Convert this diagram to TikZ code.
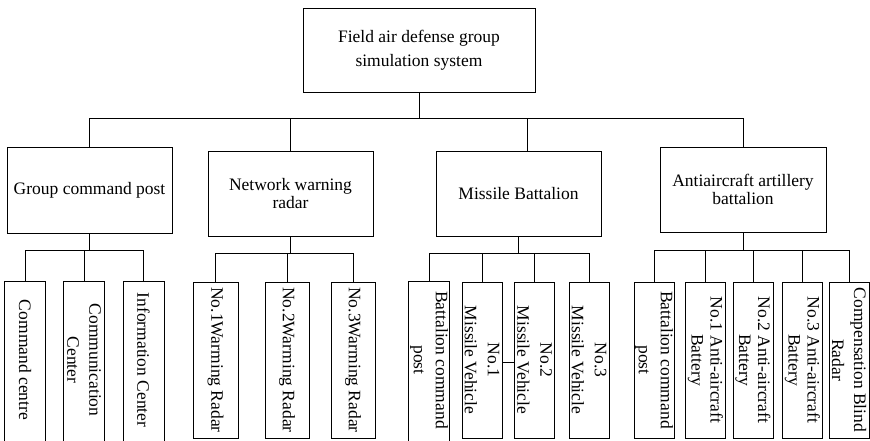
\documentclass[tikz,border=0pt]{standalone}
\usepackage{fontspec}
\setmainfont{Liberation Serif}
\begin{document}
\begin{tikzpicture}[x=1pt,y=-1pt, line width=0.8pt,
  txt/.style={font=\fontsize{17.5}{#1}\selectfont, align=center, inner sep=0pt},
  txt/.default=20,
  hbox/.style={draw, txt=#1, minimum width=165pt, minimum height=85pt},
  hbox/.default=18,
  vbox/.style={draw, rotate=-90, txt=#1, minimum width=156pt, minimum height=40pt},
  vbox/.default=21,
  openbox/.style={vbox=#1, draw=none},
  openbox/.default=21]
\useasboundingbox (0,0) rectangle (870,441);
\clip (0,0) rectangle (870,441);

% root
\node[hbox=24, minimum width=232pt, minimum height=84pt] (top) at (419,50)
  {Field air defense group\\simulation system};

% second level
\node[hbox, minimum height=86pt] (gcp) at (89.5,190) {Group command post};
\node[hbox] (nwr) at (290.5,193.5) {Network warning\\radar};
\node[hbox] (mb)  at (518.5,193.5) {Missile Battalion};
\node[hbox, minimum width=166pt] (aab) at (743,189.5) {Antiaircraft artillery\\battalion};

% bus levels
\coordinate (bus0) at (0,118);
\coordinate (busG) at (0,250);
\coordinate (busN) at (0,253);
\coordinate (busM) at (0,253);
\coordinate (busA) at (0,250);
\coordinate (stray) at (0,362);

\draw (top.south) -- (top.south |- bus0);
\draw (gcp.north) |- (aab.north |- bus0) -- (aab.north);
\draw (nwr.north) -- (nwr.north |- bus0);
\draw ([xshift=9pt]mb.north) -- ([xshift=9pt]mb.north |- bus0);

% group command post units (open at the bottom)
\node[openbox] (cc)   at (25,360)    {Command centre};
\node[openbox=22] (comm) at (84,360) {Communication\\Center};
\node[openbox] (info) at (143.5,360) {Information Center};

% warning radars
\node[vbox, minimum height=45pt] (w1) at (215.5,360) {No.1Warming Radar};
\node[vbox, minimum height=44pt] (w2) at (287,360)   {No.2Warming Radar};
\node[vbox, minimum height=44pt] (w3) at (353,360)   {No.3Warming Radar};

% missile battalion units
\node[openbox=22] (bcp1) at (429,360) {Battalion command\\post};
\node[vbox=23] (mv1) at (482,360)   {No.1\\Missile Vehicle};
\node[vbox=23] (mv2) at (534.5,360) {No.2\\Missile Vehicle};
\node[vbox=23] (mv3) at (589,360)   {No.3\\Missile Vehicle};

% antiaircraft artillery units
\node[vbox=22] (bcp2) at (654,360)   {Battalion command\\post};
\node[vbox=19] (ab1)  at (705.5,360) {No.1 Anti-aircraft\\Battery};
\node[vbox=19] (ab2)  at (753,360)   {No.2 Anti-aircraft\\Battery};
\node[vbox=19] (ab3)  at (802.5,360) {No.3 Anti-aircraft\\Battery};
\node[vbox=22] (cbr)  at (849,360)   {Compensation Blind\\Radar};

% borders of the open boxes (three sides, running off the bottom)
\foreach \n in {cc,comm,info,bcp1}{
  \draw ([yshift=-14pt]\n.south east) -- (\n.south west) -- (\n.north west) -- ([yshift=-14pt]\n.north east);
}

% group command post connectors
\draw (gcp.south) -- (gcp.south |- busG);
\draw (cc.west) |- (info.west |- busG) -- (info.west);
\draw (comm.west) -- (comm.west |- busG);

% network warning radar connectors
\draw (nwr.south) -- (nwr.south |- busN);
\draw (w1.west) |- (w3.west |- busN) -- (w3.west);
\draw (w2.west) -- (w2.west |- busN);

% missile battalion connectors
\draw (mb.south) -- (mb.south |- busM);
\draw (bcp1.west) |- (mv3.west |- busM) -- (mv3.west);
\draw (mv1.west) -- (mv1.west |- busM);
\draw (mv2.west) -- (mv2.west |- busM);
\draw (mv1.north |- stray) -- (mv2.south |- stray);

% antiaircraft artillery connectors
\draw (aab.south) -- (aab.south |- busA);
\draw (bcp2.west) |- (cbr.west |- busA) -- (cbr.west);
\draw (ab1.west) -- (ab1.west |- busA);
\draw (ab2.west) -- (ab2.west |- busA);
\draw (ab3.west) -- (ab3.west |- busA);
\end{tikzpicture}
\end{document}
